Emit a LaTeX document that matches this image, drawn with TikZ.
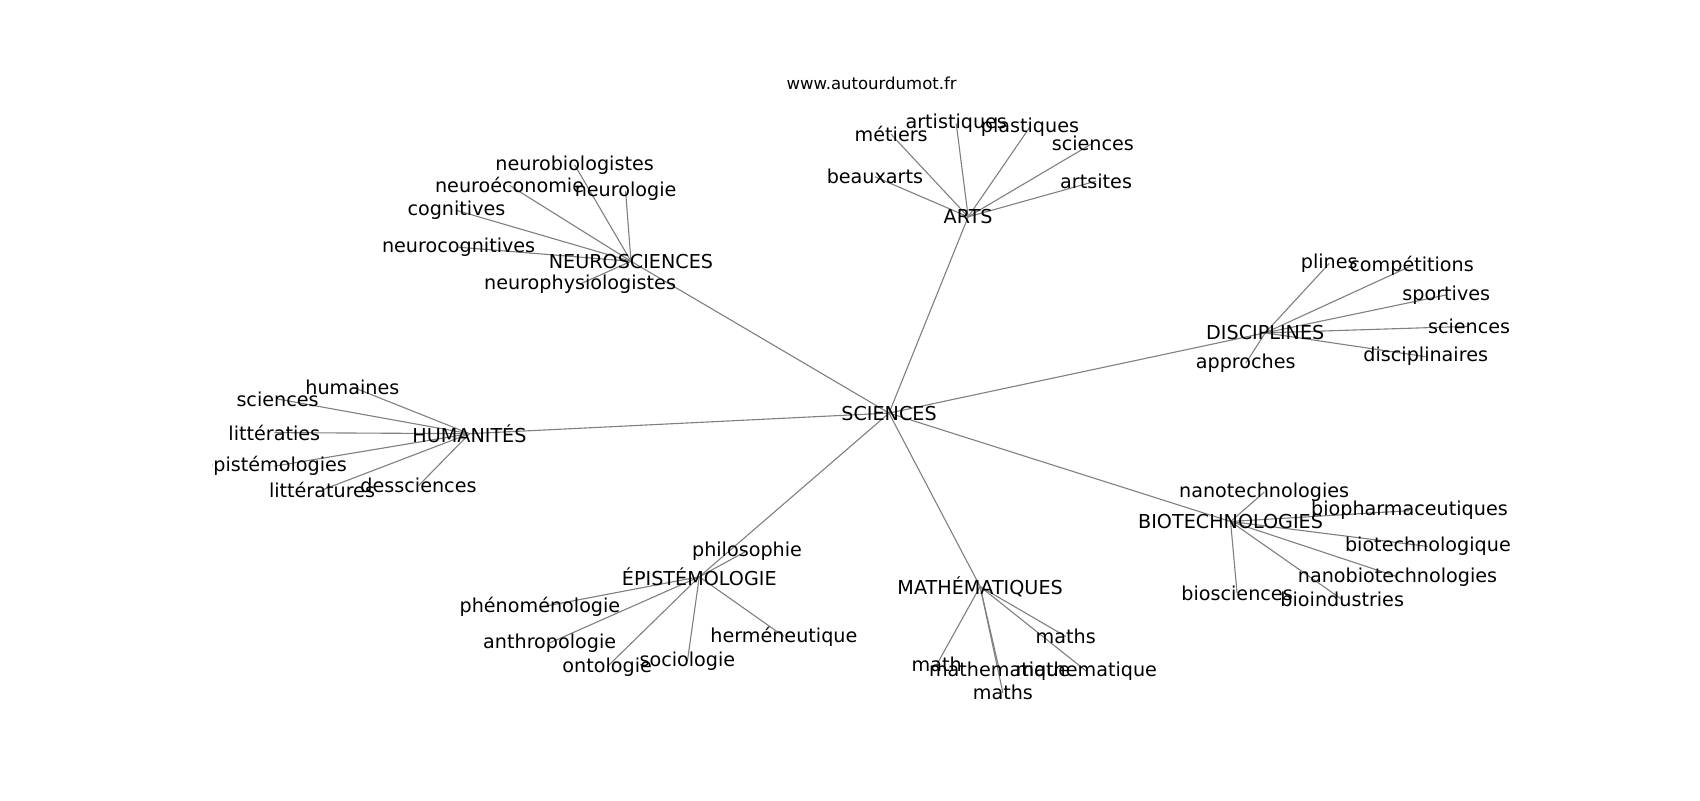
\documentclass[tikz,border=0pt]{standalone}
\usepackage{fontspec}
\setmainfont{DejaVu Sans}
\usetikzlibrary{backgrounds}
\tikzset{
  lbl/.style={inner sep=0pt, font=\fontsize{13.8}{16}\selectfont, text=black},
  urlbl/.style={inner sep=0pt, font=\fontsize{11.9}{14}\selectfont, text=black},
  edge/.style={draw=gray, line width=0.8pt}
}
\begin{document}
\begin{tikzpicture}[x=0.7806pt, y=-0.7806pt]
\useasboundingbox (0,0) rectangle (1568,738);
\node[urlbl] (url) at (804,77) {www.autourdumot.fr};
% hubs
\node[lbl] (sci) at (820,381) {SCIENCES};
\node[lbl] (arts) at (893,200) {ARTS};
\node[lbl] (neuro) at (582,241) {NEUROSCIENCES};
\node[lbl] (disc) at (1167,307) {DISCIPLINES};
\node[lbl] (hum) at (433,400) {HUMANITÉS};
\node[lbl] (bio) at (1135,481) {BIOTECHNOLOGIES};
\node[lbl] (epi) at (645,532) {ÉPISTÉMOLOGIE};
\node[lbl] (math) at (904,541) {MATHÉMATIQUES};
% arts leaves
\node[lbl] (a1) at (822,124) {métiers};
\node[lbl] (a2) at (882,114) {artistiques};
\node[lbl] (a3) at (950,117) {plastiques};
\node[lbl] (a4) at (1008,132) {sciences};
\node[lbl] (a5) at (807,163) {beauxarts};
\node[lbl] (a6) at (1011,167) {artsites};
% neuro leaves
\node[lbl] (n1) at (530,152) {neurobiologistes};
\node[lbl] (n2) at (470,171) {neuroéconomie};
\node[lbl] (n3) at (577,176) {neurologie};
\node[lbl] (n4) at (421,194) {cognitives};
\node[lbl] (n5) at (423,228) {neurocognitives};
\node[lbl] (n6) at (535,262) {neurophysiologistes};
% disciplines leaves
\node[lbl] (d1) at (1226,243) {plines};
\node[lbl] (d2) at (1302,245) {compétitions};
\node[lbl] (d3) at (1334,272) {sportives};
\node[lbl] (d4) at (1355,301) {sciences};
\node[lbl] (d5) at (1315,329) {disciplinaires};
\node[lbl] (d6) at (1149,335) {approches};
% humanites leaves
\node[lbl] (h1) at (325,357) {humaines};
\node[lbl] (h2) at (256,368) {sciences};
\node[lbl] (h3) at (253,399) {littératies};
\begin{scope}
  \clip (196,0) rectangle (1568,738);
  \node[lbl] (h4) at (253,430) {épistémologies};
\end{scope}
\node[lbl] (h5) at (297,452) {littératures};
\node[lbl] (h6) at (386,448) {dessciences};
% biotech leaves
\node[lbl] (b1) at (1166,454) {nanotechnologies};
\node[lbl] (b2) at (1300,471) {biopharmaceutiques};
\node[lbl] (b3) at (1317,504) {biotechnologique};
\node[lbl] (b4) at (1289,532) {nanobiotechnologies};
\node[lbl] (b5) at (1141,547) {biosciences};
\node[lbl] (b6) at (1238,553) {bioindustries};
% epistemologie leaves
\node[lbl] (e1) at (689,508) {philosophie};
\node[lbl] (e2) at (498,560) {phénoménologie};
\node[lbl] (e3) at (507,593) {anthropologie};
\node[lbl] (e4) at (560,615) {ontologie};
\node[lbl] (e5) at (634,610) {sociologie};
\node[lbl] (e6) at (723,587) {herméneutique};
% math leaves
\node[lbl] (m1) at (983,587) {maths};
\node[lbl] (m2) at (864,613) {math};
\node[lbl] (m3) at (922,619) {mathematique};
\node[lbl] (m4) at (1002,619) {mathematique};
\node[lbl] (m5) at (925,639) {maths};
\begin{scope}[on background layer]
  \foreach \h in {arts,neuro,disc,hum,bio,epi,math}
    \draw[edge] (sci.center) -- (\h.center);
  \foreach \l in {a1,a2,a3,a4,a5,a6}
    \draw[edge] (arts.center) -- (\l.center);
  \foreach \l in {n1,n2,n3,n4,n5,n6}
    \draw[edge] (neuro.center) -- (\l.center);
  \foreach \l in {d1,d2,d3,d4,d5,d6}
    \draw[edge] (disc.center) -- (\l.center);
  \foreach \l in {h1,h2,h3,h4,h5,h6}
    \draw[edge] (hum.center) -- (\l.center);
  \foreach \l in {b1,b2,b3,b4,b5,b6}
    \draw[edge] (bio.center) -- (\l.center);
  \foreach \l in {e1,e2,e3,e4,e5,e6}
    \draw[edge] (epi.center) -- (\l.center);
  \foreach \l in {m1,m2,m3,m4,m5}
    \draw[edge] (math.center) -- (\l.center);
\end{scope}
\end{tikzpicture}
\end{document}
